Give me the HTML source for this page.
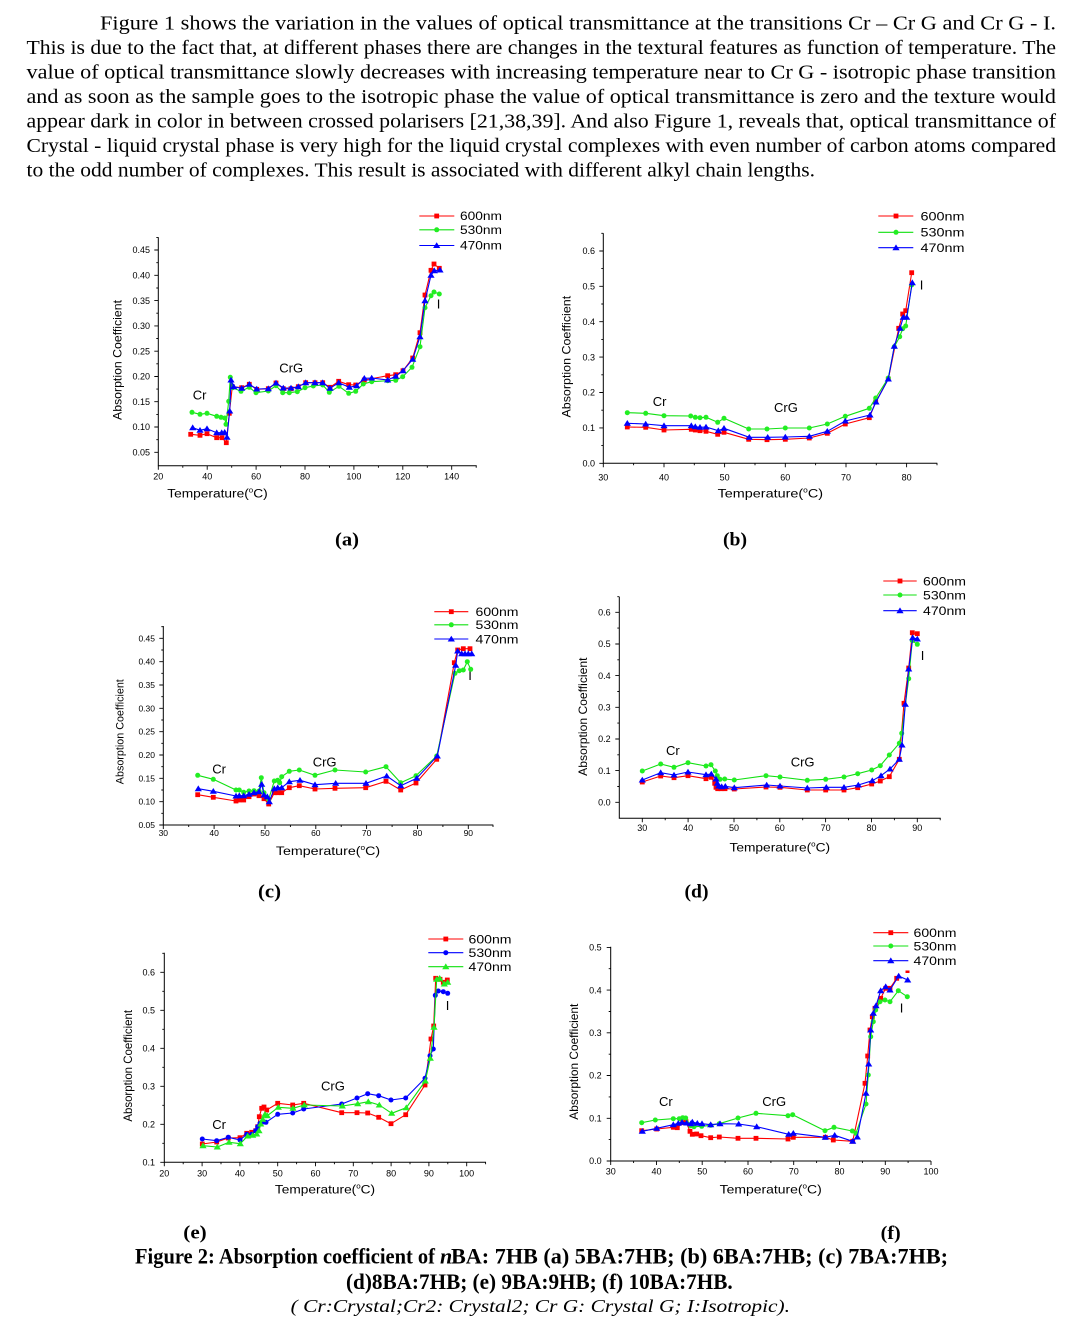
<!DOCTYPE html>
<html>
<head>
<meta charset="utf-8">
<style>
html,body{margin:0;padding:0;background:#fff;}
svg{display:block;}
.ax{fill:none;stroke:#000;stroke-width:1;}
.tk{fill:none;stroke:#000;stroke-width:0.9;}
.tl{font-family:"Liberation Sans",Arial,sans-serif;font-size:9px;fill:#000;}
.lab{font-family:"Liberation Sans",Arial,sans-serif;font-size:12px;fill:#000;}
.ph{font-family:"Liberation Sans",Arial,sans-serif;font-size:13px;fill:#000;}
.r{fill:none;stroke:#f00;stroke-width:1.1;stroke-linejoin:round;marker-start:url(#mSq);marker-mid:url(#mSq);marker-end:url(#mSq);}
.g{fill:none;stroke:#11e011;stroke-width:1.1;stroke-linejoin:round;marker-start:url(#mCiG);marker-mid:url(#mCiG);marker-end:url(#mCiG);}
.b{fill:none;stroke:#00f;stroke-width:1.1;stroke-linejoin:round;marker-start:url(#mTrB);marker-mid:url(#mTrB);marker-end:url(#mTrB);}
.b2{fill:none;stroke:#00f;stroke-width:1.1;stroke-linejoin:round;marker-start:url(#mCiB);marker-mid:url(#mCiB);marker-end:url(#mCiB);}
.g2{fill:none;stroke:#11e011;stroke-width:1.1;stroke-linejoin:round;marker-start:url(#mTrG);marker-mid:url(#mTrG);marker-end:url(#mTrG);}
.lg{marker-start:none !important;marker-end:none !important;}
.para{font-family:"Liberation Serif","Times New Roman",serif;font-size:19.5px;fill:#000;}
.cap{font-family:"Liberation Serif","Times New Roman",serif;font-weight:bold;fill:#000;}
</style>
</head>
<body>
<svg width="1073" height="1326" viewBox="0 0 1073 1326" xmlns="http://www.w3.org/2000/svg">
<defs>
<marker id="mSq" markerUnits="userSpaceOnUse" markerWidth="10" markerHeight="10" refX="5" refY="5" overflow="visible"><rect x="2.6" y="2.6" width="4.8" height="4.8" fill="#f00"/></marker>
<marker id="mCiG" markerUnits="userSpaceOnUse" markerWidth="10" markerHeight="10" refX="5" refY="5" overflow="visible"><circle cx="5" cy="5" r="2.5" fill="#22ee22"/></marker>
<marker id="mTrB" markerUnits="userSpaceOnUse" markerWidth="10" markerHeight="10" refX="5" refY="5" overflow="visible"><polygon points="5,1.7 8.6,7.5 1.4,7.5" fill="#00f"/></marker>
<marker id="mCiB" markerUnits="userSpaceOnUse" markerWidth="10" markerHeight="10" refX="5" refY="5" overflow="visible"><circle cx="5" cy="5" r="2.5" fill="#00f"/></marker>
<marker id="mTrG" markerUnits="userSpaceOnUse" markerWidth="10" markerHeight="10" refX="5" refY="5" overflow="visible"><polygon points="5,1.7 8.6,7.5 1.4,7.5" fill="#22ee22"/></marker>
</defs>
<rect x="0" y="0" width="1073" height="1326" fill="#fff"/>

<!-- Paragraph -->
<text class="para" x="100" y="29.3" textLength="956" lengthAdjust="spacingAndGlyphs">Figure 1 shows the variation in the values of optical transmittance at the transitions Cr – Cr G and Cr G - I.</text>
<text class="para" x="26.5" y="53.9" textLength="1029.5" lengthAdjust="spacingAndGlyphs">This is due to the fact that, at different phases there are changes in the textural features as function of temperature. The</text>
<text class="para" x="26.5" y="78.4" textLength="1029.5" lengthAdjust="spacingAndGlyphs">value of optical transmittance slowly decreases with increasing temperature near to Cr G - isotropic phase transition</text>
<text class="para" x="26.5" y="103" textLength="1029.5" lengthAdjust="spacingAndGlyphs">and as soon as the sample goes to the isotropic phase the value of optical transmittance is zero and the texture would</text>
<text class="para" x="26.5" y="127.6" textLength="1029.5" lengthAdjust="spacingAndGlyphs">appear dark in color in between crossed polarisers [21,38,39]. And also Figure 1, reveals that, optical transmittance of</text>
<text class="para" x="26.5" y="152.1" textLength="1029.5" lengthAdjust="spacingAndGlyphs">Crystal - liquid crystal phase is very high for the liquid crystal complexes with even number of carbon atoms compared</text>
<text class="para" x="26.5" y="176.7" textLength="788.5" lengthAdjust="spacingAndGlyphs">to the odd number of complexes. This result is associated with different alkyl chain lengths.</text>

<!-- ================= Chart (a) ================= -->
<path class="ax" d="M158.3,237.3V465.7H476.7"/>
<path class="tk" d="M154.3,452.3H158.3M154.3,427H158.3M154.3,401.7H158.3M154.3,376.5H158.3M154.3,351.2H158.3M154.3,325.9H158.3M154.3,300.6H158.3M154.3,275.3H158.3M154.3,250H158.3
M156.3,439.7H158.3M156.3,414.4H158.3M156.3,389.1H158.3M156.3,363.8H158.3M156.3,338.5H158.3M156.3,313.2H158.3M156.3,288H158.3M156.3,262.7H158.3M156.3,237.4H158.3
M158.3,465.7v4M207.2,465.7v4M256.1,465.7v4M305,465.7v4M353.9,465.7v4M402.8,465.7v4M451.7,465.7v4
M182.8,465.7v2M231.7,465.7v2M280.6,465.7v2M329.5,465.7v2M378.4,465.7v2M427.3,465.7v2M476.2,465.7v2"/>
<g class="tl" text-anchor="end">
<text x="150" y="455.5">0.05</text><text x="150" y="430.2">0.10</text><text x="150" y="404.9">0.15</text><text x="150" y="379.7">0.20</text><text x="150" y="354.4">0.25</text><text x="150" y="329.1">0.30</text><text x="150" y="303.8">0.35</text><text x="150" y="278.5">0.40</text><text x="150" y="253.2">0.45</text>
</g>
<g class="tl" text-anchor="middle">
<text x="158.3" y="479.3">20</text><text x="207.2" y="479.3">40</text><text x="256.1" y="479.3">60</text><text x="305" y="479.3">80</text><text x="353.9" y="479.3">100</text><text x="402.8" y="479.3">120</text><text x="451.7" y="479.3">140</text>
</g>
<text class="lab" transform="translate(121.5,360) rotate(-90)" text-anchor="middle" textLength="120" lengthAdjust="spacingAndGlyphs">Absorption Coefficient</text>
<text class="lab" transform="translate(217.5,497.7) scale(1.145,1)" text-anchor="middle">Temperature(<tspan font-size="7" dy="-5">o</tspan><tspan dy="5">C)</tspan></text>
<text class="ph" x="192.7" y="399.3">Cr</text>
<text class="ph" x="279.3" y="372.7">CrG</text>
<text class="ph" x="436.7" y="308.3">I</text>
<polyline class="r" points="190.7,434.3 200,435.3 207,433.7 216.7,437.7 222,437.7 226.3,442.7 229.3,413.3 232.3,386.7 241.7,387.7 249.3,384.3 256.7,389.3 268.3,388.7 276,383 283.3,388.7 291,388.7 298.3,386.7 305.7,382.7 315,382.7 322.7,382.7 330,387.3 338.7,381.3 348.7,384.7 355.7,385 364.3,380 387.7,375.7 395.7,374.7 403,370.7 412.7,358 420,332.7 425,295 431,270.3 434,264 439.3,268.3"/>
<polyline class="g" points="192,412.3 200,414.3 207,413.3 216.7,416.3 221,417.3 224.7,418 226,424.3 228.7,401.3 230.3,377.3 232.7,387.7 241,391.3 249.3,387.3 256,392.7 268.3,391 276,385.7 282.7,392.7 289.3,392.7 297.3,391.7 305,387.7 313.3,386 322.7,385 329.3,392.3 339,386.3 348.7,393.3 355.7,391.3 363.3,384 371.7,381.7 387.7,380.7 395.7,380.3 402.7,376.7 412,367.3 420,346.7 425,307.7 431,295.7 434,292 439.3,294"/>
<polyline class="b" points="192.7,427.7 200,430.3 207,428.7 216.7,432.7 221.7,432.7 224.7,432.3 227,437.3 229.7,411 231,380 233.7,386.7 241.7,388.3 249.3,384.3 256.7,389 268.3,388.7 276,383 283.3,388 291,388 298.3,386.7 305.7,382.7 315,382.7 322.7,382.7 330,388.3 338.7,382.7 349.3,387.3 356.7,385.7 364.3,378.3 371.7,378 387.7,380 395.7,376.3 403,370.7 412.7,359.3 420,336.7 425,300.7 431,275.3 434.3,270.7 440,270"/>
<polyline class="r lg" points="419.3,216 436.7,216 454.3,216"/>
<polyline class="g lg" points="419.3,229.8 436.7,229.8 454.3,229.8"/>
<polyline class="b lg" points="419.3,245.5 436.7,245.5 454.3,245.5"/>
<g class="lab"><text x="460" y="220.2" textLength="42" lengthAdjust="spacingAndGlyphs">600nm</text><text x="460" y="234" textLength="42" lengthAdjust="spacingAndGlyphs">530nm</text><text x="460" y="249.7" textLength="42" lengthAdjust="spacingAndGlyphs">470nm</text></g>

<!-- ================= Chart (b) ================= -->
<path class="ax" d="M603.3,233.3V463.3H937.3"/>
<path class="tk" d="M599.3,463.3H603.3M599.3,427.9H603.3M599.3,392.5H603.3M599.3,357.1H603.3M599.3,321.7H603.3M599.3,286.3H603.3M599.3,251H603.3
M601.3,445.6H603.3M601.3,410.2H603.3M601.3,374.8H603.3M601.3,339.4H603.3M601.3,304H603.3M601.3,268.6H603.3M601.3,233.3H603.3
M603.3,463.3v4M664,463.3v4M724.6,463.3v4M785.3,463.3v4M846,463.3v4M906.6,463.3v4
M633.6,463.3v2M694.3,463.3v2M755,463.3v2M815.6,463.3v2M876.3,463.3v2M937,463.3v2"/>
<g class="tl" text-anchor="end">
<text x="595" y="466.5">0.0</text><text x="595" y="431.1">0.1</text><text x="595" y="395.7">0.2</text><text x="595" y="360.3">0.3</text><text x="595" y="324.9">0.4</text><text x="595" y="289.5">0.5</text><text x="595" y="254.2">0.6</text>
</g>
<g class="tl" text-anchor="middle">
<text x="603.3" y="480.5">30</text><text x="664" y="480.5">40</text><text x="724.6" y="480.5">50</text><text x="785.3" y="480.5">60</text><text x="846" y="480.5">70</text><text x="906.6" y="480.5">80</text>
</g>
<text class="lab" transform="translate(570.5,356.7) rotate(-90)" text-anchor="middle" textLength="121.7" lengthAdjust="spacingAndGlyphs">Absorption Coefficient</text>
<text class="lab" transform="translate(770.3,497.7) scale(1.2,1)" text-anchor="middle">Temperature(<tspan font-size="7" dy="-5">o</tspan><tspan dy="5">C)</tspan></text>
<text class="ph" x="652.7" y="406">Cr</text>
<text class="ph" x="774" y="412">CrG</text>
<text class="ph" x="919.7" y="289.3">I</text>
<polyline class="r" points="627.3,427 645.7,427.3 664,430 691.3,429.3 695.3,430 700,430.7 706,431.3 717.7,434.3 724,432.3 748.7,439.3 767,439.7 785.3,439.3 809.3,438 827.3,433.3 845.3,424 869.3,417.7 875.7,402 888.3,379 898.7,328.3 902.7,314 905.7,310.7 911.7,272.7"/>
<polyline class="g" points="627.3,412.7 645.7,413.3 664,415.7 690.7,416 695.3,417.3 700,417.7 706,417.3 717.7,422.3 724,418.3 748.7,429 767,429 785.3,428 809.3,428 827.3,424 845.3,416.3 869.3,408.3 875.7,398 888.3,378 894.3,346.7 899.7,336.7 902.7,328.7 905.7,326 911.7,285"/>
<polyline class="b" points="627.3,423.3 645.7,424 664,425.7 691.3,425.7 695.3,426.7 700,427.3 706,427 718.3,430.7 724,428.3 749.3,437.3 767.7,437.3 785.3,437 809.3,436.3 827.3,431.3 845.3,421 870,415 876,402 888.3,379 894.3,346.3 900,328.3 903.3,317.3 906.7,317.3 912.3,282.7"/>
<polyline class="r lg" points="878.3,216 896,216 913.3,216"/>
<polyline class="g lg" points="878.3,232.3 896,232.3 913.3,232.3"/>
<polyline class="b lg" points="878.3,247.7 896,247.7 913.3,247.7"/>
<g class="lab"><text x="920.5" y="220.3" textLength="44" lengthAdjust="spacingAndGlyphs">600nm</text><text x="920.5" y="236.6" textLength="44" lengthAdjust="spacingAndGlyphs">530nm</text><text x="920.5" y="252" textLength="44" lengthAdjust="spacingAndGlyphs">470nm</text></g>

<!-- ================= Chart (c) ================= -->
<path class="ax" d="M163.3,626V825H493.3"/>
<path class="tk" d="M159.3,825H163.3M159.3,801.7H163.3M159.3,778.3H163.3M159.3,755H163.3M159.3,731.7H163.3M159.3,708.3H163.3M159.3,685H163.3M159.3,661.7H163.3M159.3,638.3H163.3
M161.3,813.3H163.3M161.3,790H163.3M161.3,766.7H163.3M161.3,743.3H163.3M161.3,720H163.3M161.3,696.7H163.3M161.3,673.3H163.3M161.3,650H163.3M161.3,626.7H163.3
M163.3,825v4M214.1,825v4M265,825v4M315.8,825v4M366.6,825v4M417.5,825v4M468.3,825v4
M188.7,825v2M239.6,825v2M290.4,825v2M341.2,825v2M392.1,825v2M442.9,825v2M493,825v2"/>
<g class="tl" text-anchor="end" style="font-size:8.5px">
<text x="155" y="828">0.05</text><text x="155" y="804.7">0.10</text><text x="155" y="781.3">0.15</text><text x="155" y="758">0.20</text><text x="155" y="734.7">0.25</text><text x="155" y="711.3">0.30</text><text x="155" y="688">0.35</text><text x="155" y="664.7">0.40</text><text x="155" y="641.3">0.45</text>
</g>
<g class="tl" text-anchor="middle" style="font-size:8.5px">
<text x="163.3" y="836">30</text><text x="214.1" y="836">40</text><text x="265" y="836">50</text><text x="315.8" y="836">60</text><text x="366.6" y="836">70</text><text x="417.5" y="836">80</text><text x="468.3" y="836">90</text>
</g>
<text class="lab" style="font-size:11px" transform="translate(123.5,731.7) rotate(-90)" text-anchor="middle" textLength="105" lengthAdjust="spacingAndGlyphs">Absorption Coefficient</text>
<text class="lab" transform="translate(328,855) scale(1.186,1)" text-anchor="middle">Temperature(<tspan font-size="7" dy="-5">o</tspan><tspan dy="5">C)</tspan></text>
<text class="ph" x="212.3" y="773.3">Cr</text>
<text class="ph" x="312.7" y="766.7">CrG</text>
<text class="ph" x="468.3" y="680">I</text>
<polyline class="r" points="197.7,794.7 213.3,797.3 236,801 239.3,800 243.7,800 249,796.7 254,794 259,795.7 264,798.7 268.7,804 274.3,792.7 277.7,792.7 281.7,792.7 289.3,787.7 299.3,785.7 315,789 335,788.3 365.7,787.7 386,781.3 400.7,790 416,783 436.7,759.3 454.3,662.7 457.7,650 463.3,648.7 470,648.7"/>
<polyline class="g" points="197.7,775.3 213.3,779.3 236,790 239.3,790 243.7,792.3 249,791 254,790.7 259,791 261.3,777.7 264,792.7 268.7,799.3 274.3,781 277.7,780.3 279.7,782.7 281.7,776.7 289.3,771.3 299.3,770 315,775.3 335,770 365.7,772 386,766.7 400.7,782.7 416,775.7 436.7,756 455,673.3 459.3,670.7 463.3,670 467.3,661.7 470.7,669.3"/>
<polyline class="b" points="198.3,788.7 213.3,791.3 236,796 239.3,795.7 243.7,795.7 249,794.3 254,792.7 259,791.7 261.7,784.3 264,795 267.3,796.7 269.3,801.7 274.3,788.7 277.7,787.7 281.7,787.7 289.3,781.7 300,780.3 315,784.7 335.7,783.3 366,783.3 386.7,776 400.7,785.7 416.7,778.3 437.3,756 455.7,665.3 457.7,651 461.7,653.7 465,653.7 468.3,653.7 471.7,653.7"/>
<polyline class="r lg" points="434.3,611.7 451.3,611.7 468.3,611.7"/>
<polyline class="g lg" points="434.3,624.8 451.3,624.8 468.3,624.8"/>
<polyline class="b lg" points="434.3,639 451.3,639 468.3,639"/>
<g class="lab"><text x="475.5" y="616" textLength="43" lengthAdjust="spacingAndGlyphs">600nm</text><text x="475.5" y="629" textLength="43" lengthAdjust="spacingAndGlyphs">530nm</text><text x="475.5" y="643.3" textLength="43" lengthAdjust="spacingAndGlyphs">470nm</text></g>

<!-- ================= Chart (d) ================= -->
<path class="ax" d="M619.3,596.7V818.3H940.7"/>
<path class="tk" d="M615.3,802.3H619.3M615.3,770.6H619.3M615.3,739H619.3M615.3,707.3H619.3M615.3,675.6H619.3M615.3,644H619.3M615.3,612.3H619.3
M617.3,786.5H619.3M617.3,754.8H619.3M617.3,723.1H619.3M617.3,691.5H619.3M617.3,659.8H619.3M617.3,628.1H619.3M617.3,596.7H619.3
M642.3,818.3v4M688.1,818.3v4M734,818.3v4M779.8,818.3v4M825.6,818.3v4M871.5,818.3v4M917.3,818.3v4
M665.2,818.3v2M711,818.3v2M756.9,818.3v2M802.7,818.3v2M848.5,818.3v2M894.4,818.3v2M940.2,818.3v2"/>
<g class="tl" text-anchor="end">
<text x="610.7" y="805.5">0.0</text><text x="610.7" y="773.8">0.1</text><text x="610.7" y="742.2">0.2</text><text x="610.7" y="710.5">0.3</text><text x="610.7" y="678.8">0.4</text><text x="610.7" y="647.2">0.5</text><text x="610.7" y="615.5">0.6</text>
</g>
<g class="tl" text-anchor="middle">
<text x="642.3" y="831">30</text><text x="688.1" y="831">40</text><text x="734" y="831">50</text><text x="779.8" y="831">60</text><text x="825.6" y="831">70</text><text x="871.5" y="831">80</text><text x="917.3" y="831">90</text>
</g>
<text class="lab" transform="translate(587,716.7) rotate(-90)" text-anchor="middle" textLength="118.3" lengthAdjust="spacingAndGlyphs">Absorption Coefficient</text>
<text class="lab" transform="translate(779.8,851.7) scale(1.146,1)" text-anchor="middle">Temperature(<tspan font-size="7" dy="-5">o</tspan><tspan dy="5">C)</tspan></text>
<text class="ph" x="666" y="755">Cr</text>
<text class="ph" x="790.7" y="766.7">CrG</text>
<text class="ph" x="920.7" y="660">I</text>
<polyline class="r" points="642.3,782 660.7,776 674,777.7 688,775.7 706,778.7 711.3,777.3 714.7,783.3 716,787.3 717.7,788.7 721,788.7 725,788.7 734.3,789 766,787 780,787.3 807.3,790 825.7,790 844,790 857.7,787.7 871.7,784 880.3,781 889.3,776.7 899.3,759.3 904,703.3 908.7,668 912.3,632.7 917.3,633.7"/>
<polyline class="g" points="642.3,771 660.7,764 674,767.3 688,762.7 706,766 711,764.7 715.3,771 717.3,775.7 720,779.3 724.7,779 734.3,780 766,775.7 780,777 807.3,780.3 825.7,779.3 844,777 857.7,773.7 871.7,770 880.3,765.7 889.3,755 899.3,743.3 901.7,733.3 908.7,678.7 912.3,640.7 917.3,644.3"/>
<polyline class="b" points="642.3,780 660.7,772.7 674,775 688,772 706,774.7 711.3,774 716,779 717.3,783.3 718.7,786 721.7,786.7 725.3,786.3 734.3,787.7 766.7,785 780,786 807.3,788 826.3,787.3 844,787.3 858.3,785 872.3,780.7 881,775.7 890,769 899.3,759.3 902,745 905.3,704.3 908.7,669 912.7,637.7 917.3,639"/>
<polyline class="r lg" points="883.3,581 900,581 916.7,581"/>
<polyline class="g lg" points="883.3,595 900,595 916.7,595"/>
<polyline class="b lg" points="883.3,610.7 900,610.7 916.7,610.7"/>
<g class="lab"><text x="923" y="585.3" textLength="43" lengthAdjust="spacingAndGlyphs">600nm</text><text x="923" y="599.3" textLength="43" lengthAdjust="spacingAndGlyphs">530nm</text><text x="923" y="615" textLength="43" lengthAdjust="spacingAndGlyphs">470nm</text></g>

<!-- ================= Chart (e) ================= -->
<path class="ax" d="M164.3,952.7V1162.3H486"/>
<path class="tk" d="M160.3,1162.3H164.3M160.3,1124.3H164.3M160.3,1086.3H164.3M160.3,1048.3H164.3M160.3,1010.3H164.3M160.3,972.3H164.3
M162.3,1143.3H164.3M162.3,1105.3H164.3M162.3,1067.3H164.3M162.3,1029.3H164.3M162.3,991.3H164.3M162.3,953.3H164.3
M164.3,1162.3v4M202.1,1162.3v4M239.9,1162.3v4M277.7,1162.3v4M315.5,1162.3v4M353.3,1162.3v4M391.1,1162.3v4M428.9,1162.3v4M466.7,1162.3v4
M183.2,1162.3v2M221,1162.3v2M258.8,1162.3v2M296.6,1162.3v2M334.4,1162.3v2M372.2,1162.3v2M410,1162.3v2M447.8,1162.3v2M485.6,1162.3v2"/>
<g class="tl" text-anchor="end">
<text x="155" y="1165.5">0.1</text><text x="155" y="1127.5">0.2</text><text x="155" y="1089.5">0.3</text><text x="155" y="1051.5">0.4</text><text x="155" y="1013.5">0.5</text><text x="155" y="975.5">0.6</text>
</g>
<g class="tl" text-anchor="middle">
<text x="164.3" y="1176.5">20</text><text x="202.1" y="1176.5">30</text><text x="239.9" y="1176.5">40</text><text x="277.7" y="1176.5">50</text><text x="315.5" y="1176.5">60</text><text x="353.3" y="1176.5">70</text><text x="391.1" y="1176.5">80</text><text x="428.9" y="1176.5">90</text><text x="466.7" y="1176.5">100</text>
</g>
<text class="lab" transform="translate(132,1065.8) rotate(-90)" text-anchor="middle" textLength="111.7" lengthAdjust="spacingAndGlyphs">Absorption Coefficient</text>
<text class="lab" transform="translate(325,1193.3) scale(1.141,1)" text-anchor="middle">Temperature(<tspan font-size="7" dy="-5">o</tspan><tspan dy="5">C)</tspan></text>
<text class="ph" x="212.3" y="1129">Cr</text>
<text class="ph" x="321" y="1090.7">CrG</text>
<text class="ph" x="445.7" y="1010">I</text>
<polyline class="r" points="202.3,1144 216.7,1142 228.3,1138 240,1137.7 246.7,1133.3 251.7,1132.3 255.7,1130.7 257.7,1126.7 259.3,1116.7 261.7,1108.3 264,1107 266.7,1110 277.7,1103.3 292.7,1105 303.7,1103.3 341.7,1112.7 357,1112.7 367.7,1113 378.7,1117.3 391,1123.7 405.7,1114.7 425,1085 431,1039 433.7,1026 435.7,978.3 440,979.3 443.3,982.3 447.3,980"/>
<polyline class="b2" points="202.3,1139 216.7,1140.7 228.3,1137.3 240,1140 246.7,1134.3 251.7,1134.3 255.7,1130.7 257.7,1126.7 260,1123.3 264,1122 266,1122.3 277.7,1114.3 292.7,1113 303.7,1109 341.7,1104 357,1098 367.7,1093.7 378.7,1095.7 391,1100 405.7,1098 425,1078.3 430,1055.7 433.3,1049 435.3,995.3 438.3,991 443.3,991.7 447.7,993.3"/>
<polyline class="g2" points="203,1145.7 217.3,1147 229,1142.3 240.3,1143.7 247.7,1136 252.7,1135.3 256.7,1134 259,1130.7 260.7,1124 262.7,1119.3 265,1114.3 267.3,1115.7 278.3,1107.3 293,1108.3 304.3,1105 342.3,1106 357.7,1103.7 368.3,1101.7 379.3,1105 391.7,1113.3 406.3,1107.7 425.3,1081 430.3,1058.3 434,1027.3 436.7,979.3 439.7,978.3 444.3,984 447.7,982.3"/>
<polyline class="r lg" points="428.3,939 445.8,939 463.3,939"/>
<polyline class="b2 lg" points="428.3,952.7 445.8,952.7 463.3,952.7"/>
<polyline class="g2 lg" points="428.3,966.7 445.8,966.7 463.3,966.7"/>
<g class="lab"><text x="468.5" y="943.3" textLength="43" lengthAdjust="spacingAndGlyphs">600nm</text><text x="468.5" y="957" textLength="43" lengthAdjust="spacingAndGlyphs">530nm</text><text x="468.5" y="971" textLength="43" lengthAdjust="spacingAndGlyphs">470nm</text></g>

<!-- ================= Chart (f) ================= -->
<path class="ax" d="M610.7,946.7V1161H931"/>
<path class="tk" d="M606.7,1161H610.7M606.7,1118.3H610.7M606.7,1075.5H610.7M606.7,1032.8H610.7M606.7,990.1H610.7M606.7,947.4H610.7
M608.7,1139.6H610.7M608.7,1096.9H610.7M608.7,1054.2H610.7M608.7,1011.5H610.7M608.7,968.7H610.7
M610.7,1161v4M656.5,1161v4M702.2,1161v4M748,1161v4M793.7,1161v4M839.5,1161v4M885.3,1161v4M931,1161v4
M633.6,1161v2M679.3,1161v2M725.1,1161v2M770.9,1161v2M816.6,1161v2M862.4,1161v2M908.1,1161v2"/>
<g class="tl" text-anchor="end">
<text x="601.7" y="1164.2">0.0</text><text x="601.7" y="1121.5">0.1</text><text x="601.7" y="1078.7">0.2</text><text x="601.7" y="1036">0.3</text><text x="601.7" y="993.3">0.4</text><text x="601.7" y="950.6">0.5</text>
</g>
<g class="tl" text-anchor="middle">
<text x="610.7" y="1174.3">30</text><text x="656.5" y="1174.3">40</text><text x="702.2" y="1174.3">50</text><text x="748" y="1174.3">60</text><text x="793.7" y="1174.3">70</text><text x="839.5" y="1174.3">80</text><text x="885.3" y="1174.3">90</text><text x="931" y="1174.3">100</text>
</g>
<text class="lab" transform="translate(578,1061.7) rotate(-90)" text-anchor="middle" textLength="116" lengthAdjust="spacingAndGlyphs">Absorption Coefficient</text>
<text class="lab" transform="translate(770.7,1193.3) scale(1.163,1)" text-anchor="middle">Temperature(<tspan font-size="7" dy="-5">o</tspan><tspan dy="5">C)</tspan></text>
<text class="ph" x="659" y="1106">Cr</text>
<text class="ph" x="762.3" y="1106">CrG</text>
<text class="ph" x="899.7" y="1012.7">I</text>
<polyline class="r" points="641.7,1130.7 656.7,1129 673.3,1127.3 677.3,1127.7 682.7,1122.7 686,1121.7 690,1131.3 692.3,1134.3 696.7,1134 701,1135.7 710.7,1137.7 719.3,1137 738,1138.3 756,1138.3 788,1139 793.3,1137.3 825.3,1137.3 833.3,1140 852.7,1141.3 865,1083.3 867.7,1056 870,1030 872.3,1016.7 875,1008.3 880.7,998.3 885.7,988.3 890,988.3 896.7,978.3"/>
<rect x="905.5" y="970.5" width="4" height="2.5" fill="#f00"/>
<polyline class="g" points="641.7,1122.7 655.3,1120 673.3,1118.7 679.3,1118.7 682.7,1117.7 685.7,1118 690.7,1125.7 694,1126.7 701.7,1126.3 710.7,1125.3 719.3,1123.7 738,1118 756,1113.3 788,1115.7 792.7,1114.7 825,1130.7 834,1127.3 852.3,1131 856,1133.3 866,1104 868.3,1075 870.7,1036.7 873.3,1021.7 875.7,1010 880,1001.7 885,1000 890,1001.7 898.3,990.7 907.3,996.7"/>
<polyline class="b" points="642.3,1131.3 656.7,1128.3 673.3,1124.7 678.3,1123.3 682,1122.3 686.7,1123 690.7,1123.7 692.3,1122 697.3,1123.3 702,1123.7 710.7,1124.7 720,1123.7 738.7,1124 756.7,1126.7 788.7,1134.3 793.3,1133.3 825.3,1137.3 834.7,1135.3 852.7,1141.3 857.3,1137 866,1093.3 868.7,1064 870.7,1030 873.3,1013.3 876,1005.7 880.7,990.7 885.7,986.7 890,990 898.7,976 907.7,980"/>
<polyline class="r lg" points="873.3,932.7 890.8,932.7 908.3,932.7"/>
<polyline class="g lg" points="873.3,946 890.8,946 908.3,946"/>
<polyline class="b lg" points="873.3,960.7 890.8,960.7 908.3,960.7"/>
<g class="lab"><text x="913.5" y="937" textLength="43" lengthAdjust="spacingAndGlyphs">600nm</text><text x="913.5" y="950.3" textLength="43" lengthAdjust="spacingAndGlyphs">530nm</text><text x="913.5" y="965" textLength="43" lengthAdjust="spacingAndGlyphs">470nm</text></g>

<!-- Sub-captions -->
<text class="cap" font-size="19" x="335" y="545.3" textLength="24" lengthAdjust="spacingAndGlyphs">(a)</text>
<text class="cap" font-size="19" x="723" y="545.3" textLength="24" lengthAdjust="spacingAndGlyphs">(b)</text>
<text class="cap" font-size="19" x="258" y="897.3" textLength="23" lengthAdjust="spacingAndGlyphs">(c)</text>
<text class="cap" font-size="19" x="684.5" y="897.3" textLength="24" lengthAdjust="spacingAndGlyphs">(d)</text>
<text class="cap" font-size="19" x="183.3" y="1238.3" textLength="23.4" lengthAdjust="spacingAndGlyphs">(e)</text>
<text class="cap" font-size="19" x="880.7" y="1239" textLength="20" lengthAdjust="spacingAndGlyphs">(f)</text>

<!-- Figure caption -->
<text class="cap" font-size="22" x="135" y="1263.3" textLength="300" lengthAdjust="spacingAndGlyphs">Figure 2: Absorption coefficient of</text>
<text class="cap" font-size="22" font-style="italic" x="440" y="1263.3">n</text>
<text class="cap" font-size="22" x="451" y="1263.3" textLength="497" lengthAdjust="spacingAndGlyphs">BA: 7HB (a) 5BA:7HB; (b) 6BA:7HB; (c) 7BA:7HB;</text>
<text class="cap" font-size="22" x="346" y="1289" textLength="386.7" lengthAdjust="spacingAndGlyphs">(d)8BA:7HB; (e) 9BA:9HB; (f) 10BA:7HB.</text>
<text font-family="'Liberation Serif','Times New Roman',serif" font-size="18" font-style="italic" fill="#000" x="290.7" y="1312" textLength="499.3" lengthAdjust="spacingAndGlyphs">( Cr:Crystal;Cr2: Crystal2; Cr G: Crystal G; I:Isotropic).</text>
</svg>
</body>
</html>
